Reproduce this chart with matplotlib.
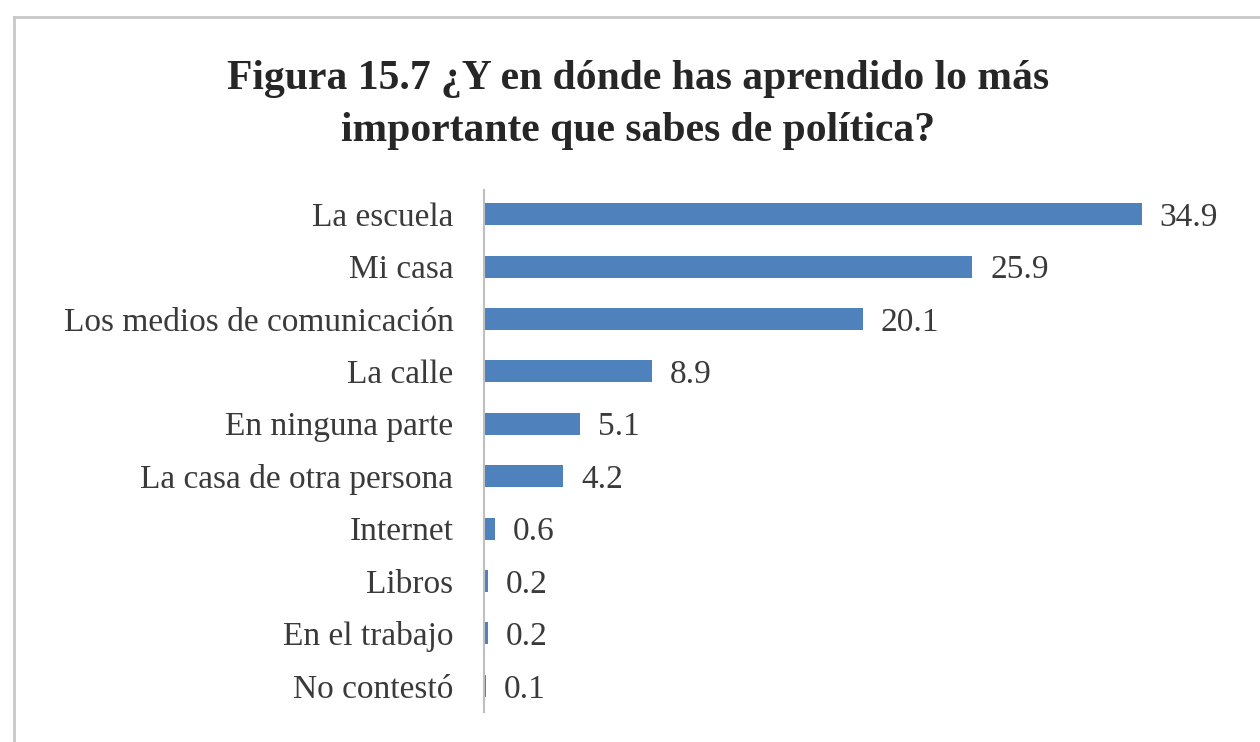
import matplotlib.pyplot as plt
from matplotlib.lines import Line2D

categories = ["La escuela", "Mi casa", "Los medios de comunicación", "La calle",
              "En ninguna parte", "La casa de otra persona", "Internet", "Libros",
              "En el trabajo", "No contestó"]
values = [34.9, 25.9, 20.1, 8.9, 5.1, 4.2, 0.6, 0.2, 0.2, 0.1]
title = "Figura 15.7 ¿Y en dónde has aprendido lo más\nimportante que sabes de política?"

W, H = 1260, 742
fig = plt.figure(figsize=(W / 100, H / 100), dpi=100)
plt.rcParams['font.family'] = ['Liberation Serif', 'DejaVu Serif']

# light frame around the chart (top and left edges visible)
fig.add_artist(Line2D([14 / W, 1], [1 - 17 / H, 1 - 17 / H], color='#c8c8c8', lw=2))
fig.add_artist(Line2D([14 / W, 14 / W], [0, 1 - 17 / H], color='#c8c8c8', lw=2))

ax = fig.add_axes([484 / W, 1 - 712 / H, 38 * 18.85 / W, 522 / H])
pos = list(range(len(categories)))
ax.barh(pos, values, height=0.42, color='#4f81bd')
ax.set_ylim(len(categories) - 0.5, -0.46)
ax.set_xlim(0, 38)

for p, v in zip(pos, values):
    ax.text(v + 0.95, p, f"{v:.1f}", va='center_baseline', ha='left',
            fontsize=24, color='#3a3a3a')

ax.set_yticks(pos)
ax.set_yticklabels(categories, fontsize=24, color='#3a3a3a')
ax.tick_params(axis='y', length=0, pad=22)
ax.set_xticks([])
for s in ['top', 'right', 'bottom']:
    ax.spines[s].set_visible(False)
ax.spines['left'].set_color('#bfbfbf')
ax.spines['left'].set_linewidth(1.5)

fig.text(638 / W, 1 - 105 / H, title, ha='center', va='center', fontsize=30,
         fontweight='bold', color='#262626', linespacing=1.45)

fig.savefig('out.png', dpi=100)
